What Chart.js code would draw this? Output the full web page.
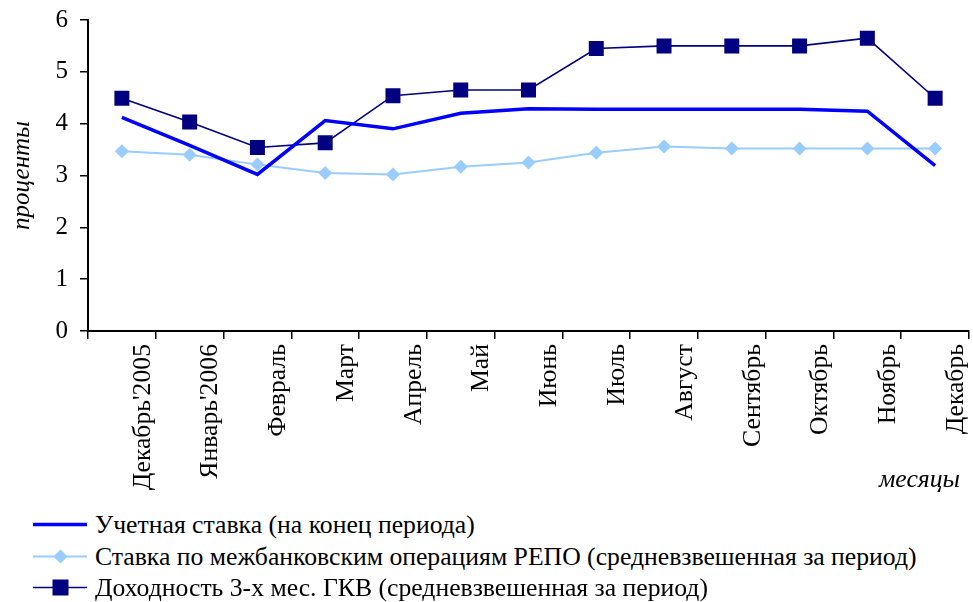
<!DOCTYPE html>
<html>
<head>
<meta charset="utf-8">
<script src="https://cdn.jsdelivr.net/npm/chart.js@4.4.1/dist/chart.umd.min.js"></script>
<style>
  html, body { margin: 0; padding: 0; background: #fff; }
  #wrap { position: relative; width: 973px; height: 602px; overflow: hidden; }
  #chartBox { position: absolute; left: 0; top: 0; width: 973px; height: 500px; }
  #legend { position: absolute; left: 0; top: 509px; font-family: "Liberation Serif", "Times New Roman", serif; font-size: 25.7px; color: #000; }
  .row { position: relative; height: 31.7px; line-height: 31.7px; white-space: nowrap; }
  .row canvas { position: absolute; left: 30px; top: 0; }
  .row span { position: absolute; left: 95px; top: 0; }
</style>
</head>
<body>
<div id="wrap">
  <div id="chartBox"><canvas id="c" width="973" height="500"></canvas></div>
  <div id="legend"></div>
</div>
<script>
const categories = ["Декабрь'2005", "Январь'2006", "Февраль", "Март", "Апрель", "Май", "Июнь", "Июль", "Август", "Сентябрь", "Октябрь", "Ноябрь", "Декабрь"];
const discountRate = [4.12, 3.58, 3.02, 4.06, 3.90, 4.20, 4.29, 4.28, 4.28, 4.28, 4.28, 4.24, 3.19];
const repoRate = [3.47, 3.40, 3.21, 3.05, 3.02, 3.17, 3.25, 3.44, 3.56, 3.52, 3.52, 3.52, 3.52];
const gkvYield = [4.49, 4.03, 3.54, 3.63, 4.54, 4.65, 4.65, 5.45, 5.50, 5.50, 5.50, 5.65, 4.49];
const seriesNames = [
  "Учетная ставка (на конец периода)",
  "Ставка по межбанковским операциям РЕПО (средневзвешенная за период)",
  "Доходность 3-х мес. ГКВ (средневзвешенная за период)"
];
const yTitle = "проценты";
const xTitle = "месяцы";

const FONT = "'Liberation Serif', 'Times New Roman', serif";

const datasets = [
  { label: seriesNames[0], data: discountRate, borderColor: '#0000FF', backgroundColor: '#0000FF', borderWidth: 3.5, pointRadius: 0, pointStyle: false, tension: 0 },
  { label: seriesNames[1], data: repoRate, borderColor: '#99CCFF', backgroundColor: '#99CCFF', borderWidth: 2, pointStyle: 'rectRot', pointRadius: 7, pointBorderWidth: 0, tension: 0 },
  { label: seriesNames[2], data: gkvYield, borderColor: '#000080', backgroundColor: '#000080', borderWidth: 1.6, pointStyle: 'rect', pointRadius: 10.6, pointBorderWidth: 0, tension: 0 }
];

const xTitlePlugin = {
  id: 'xTitlePlugin',
  afterDraw(chart) {
    const ctx = chart.ctx;
    const a = chart.chartArea;
    ctx.save();
    ctx.font = "italic 25.7px " + FONT;
    ctx.fillStyle = '#000';
    ctx.textAlign = 'right';
    ctx.textBaseline = 'alphabetic';
    ctx.fillText(xTitle, a.right - 9, 487);
    ctx.restore();
  }
};

new Chart(document.getElementById('c'), {
  type: 'line',
  data: { labels: categories, datasets: datasets },
  plugins: [xTitlePlugin],
  options: {
    responsive: false,
    animation: false,
    events: [],
    layout: { autoPadding: false, padding: { left: 0, right: 4, top: 20, bottom: 0 } },
    plugins: { legend: { display: false }, tooltip: { enabled: false } },
    scales: {
      x: {
        offset: true,
        afterFit: (s) => { s.height = 169; s.paddingLeft = 0; s.paddingRight = 0; },
        grid: { offset: true, drawOnChartArea: false, drawTicks: true, tickLength: 8, color: '#000', lineWidth: 1.5 },
        border: { display: true, color: '#000', width: 2 },
        ticks: { color: '#000', font: { family: FONT, size: 25.7 }, minRotation: 90, maxRotation: 90, autoSkip: false, padding: 5, labelOffset: 21 }
      },
      y: {
        min: 0, max: 6,
        afterFit: (s) => { s.width = 88; s.paddingTop = 0; s.paddingBottom = 0; },
        grid: { drawOnChartArea: false, drawTicks: true, tickLength: 8, color: '#000', lineWidth: 1.5 },
        border: { display: true, color: '#000', width: 2 },
        ticks: { stepSize: 1, color: '#000', font: { family: FONT, size: 25 }, padding: 12 },
        title: { display: true, text: yTitle, color: '#000', font: { family: FONT, size: 25, style: 'italic' }, padding: { top: 7, bottom: 0 } }
      }
    }
  }
});

// HTML legend built from the datasets
const legend = document.getElementById('legend');
datasets.forEach((ds) => {
  const row = document.createElement('div');
  row.className = 'row';
  const cv = document.createElement('canvas');
  cv.width = 60; cv.height = 32;
  const ctx = cv.getContext('2d');
  ctx.strokeStyle = ds.borderColor;
  ctx.lineWidth = ds.borderWidth;
  const cy = 15.5;
  ctx.beginPath(); ctx.moveTo(3, cy); ctx.lineTo(57, cy); ctx.stroke();
  ctx.fillStyle = ds.backgroundColor;
  const cx = 30.5;
  if (ds.pointStyle === 'rect') {
    const h = 8;
    ctx.fillRect(cx - h, cy - h, 2 * h, 2 * h);
  } else if (ds.pointStyle === 'rectRot') {
    const r = 7;
    ctx.beginPath(); ctx.moveTo(cx, cy - r); ctx.lineTo(cx + r, cy); ctx.lineTo(cx, cy + r); ctx.lineTo(cx - r, cy); ctx.closePath(); ctx.fill();
  }
  row.appendChild(cv);
  const sp = document.createElement('span');
  sp.textContent = ds.label;
  row.appendChild(sp);
  legend.appendChild(row);
});
</script>
</body>
</html>
